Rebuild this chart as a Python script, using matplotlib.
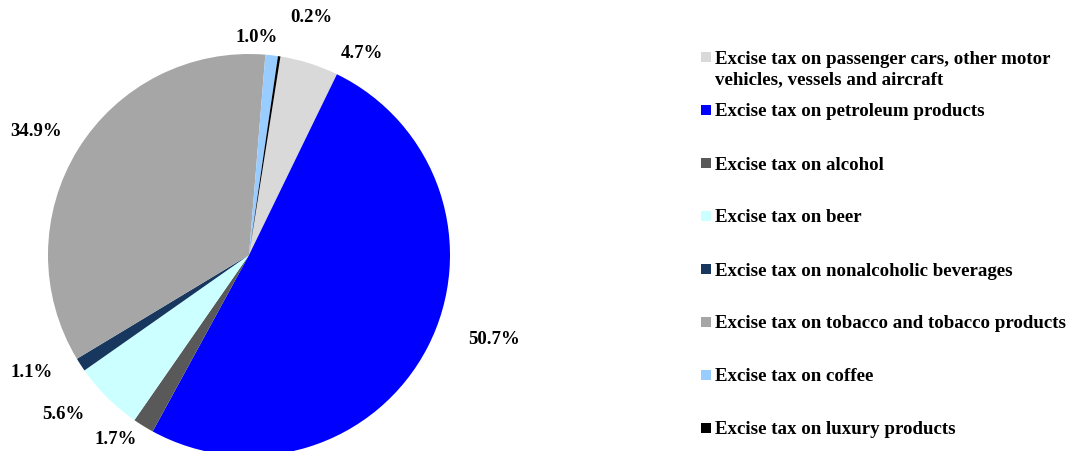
import matplotlib.pyplot as plt
from matplotlib.patches import Rectangle

plt.rcParams['font.family'] = ['Liberation Serif', 'DejaVu Serif']

# --- DATA ---
categories = [
    "Excise tax on passenger cars, other motor\nvehicles, vessels and aircraft",
    "Excise tax on petroleum products",
    "Excise tax on alcohol",
    "Excise tax on beer",
    "Excise tax on nonalcoholic beverages",
    "Excise tax on tobacco and tobacco products",
    "Excise tax on coffee",
    "Excise tax on luxury products",
]
shares = [4.7, 50.7, 1.7, 5.6, 1.1, 34.9, 1.0, 0.2]
colors = ['#D9D9D9', '#0000FF', '#595959', '#CCFFFF', '#17375E',
          '#A6A6A6', '#99CCFF', '#000000']

# label positions (pixels in the figure), Excel-style placement
label_px = [(362, 53), (494, 340), (116, 440), (63, 415), (32, 373),
            (36, 132), (257, 38), (311, 18)]

W, H = 1072, 452
cx, cy, rad = 249, 256, 201

fig = plt.figure(figsize=(W / 100, H / 100), dpi=100)
ax = fig.add_axes([(cx - rad) / W, (H - cy - rad) / H, 2 * rad / W, 2 * rad / H])
ax.pie(shares, colors=colors, startangle=81, counterclock=False,
       radius=1, wedgeprops=dict(linewidth=0))
ax.set_xlim(-1, 1)
ax.set_ylim(-1, 1)
ax.set_aspect('equal')
ax.axis('off')

for val, (px, py) in zip(shares, label_px):
    fig.text(px / W, 1 - py / H, f"{val:.1f}%", ha='center', va='center',
             fontsize=13.5, fontweight='bold')

# --- LEGEND (drawn by hand to keep Excel spacing) ---
legend_y = [58, 111, 164, 217, 270, 323, 376, 429]
line_h = 21
for lab, col, y in zip(categories, colors, legend_y):
    fig.add_artist(Rectangle((701 / W, 1 - (y + 5) / H), 10 / W, 10 / H,
                             transform=fig.transFigure, facecolor=col,
                             edgecolor='none'))
    for i, line in enumerate(lab.split('\n')):
        fig.text(715 / W, 1 - (y + 5.5 + i * line_h) / H, line, ha='left',
                 va='baseline', fontsize=13.6, fontweight='bold')

plt.savefig("out.png", dpi=100)
